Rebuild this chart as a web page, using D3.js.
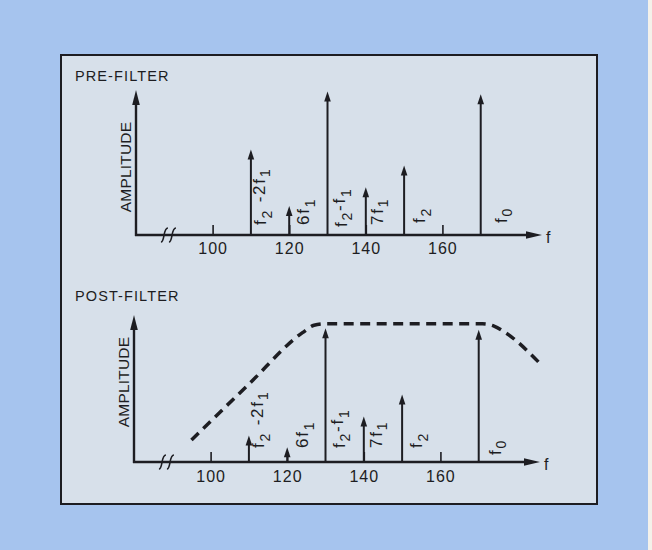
<!DOCTYPE html>
<html><head><meta charset="utf-8">
<script src="https://cdn.jsdelivr.net/npm/d3@7/dist/d3.min.js"></script>
<style>html,body{margin:0;padding:0;background:#fff;}svg{display:block;}</style>
</head><body>
<svg id="c" width="652" height="550"></svg>
<script>
// ---- data ----
const spikeFreqs = [110, 120, 130, 140, 150, 170];
const spikeLabels = [
  [["f",0],["2",1],[" -2f",0],["1",1]],
  [["6f",0],["1",1]],
  [["f",0],["2",1],["-f",0],["1",1]],
  [["7f",0],["1",1]],
  [["f",0],["2",1]],
  [["f",0],["0",1]]
];
const preAmplitude  = [59, 20, 99, 33, 48, 97];
const postAmplitude = [18, 10, 91, 31, 46, 90];
const filterFreq = [95, 110, 124, 127, 130, 171, 174, 177, 186];
const filterAmp  = [15, 53, 88, 93, 94, 94, 92.5, 88, 67];
const tickValues = [100, 120, 140, 160];
const titles = ["PRE-FILTER", "POST-FILTER"];
const yTitle = "AMPLITUDE";
const xTitle = "f";

// ---- layout ----
const ink = "#1d1d22";
const panels = [
  {title: titles[0], amps: preAmplitude, x0: 136, baseY: 235, topY: 90, titleY: 81, ampX: 130.5, ampCY: 167,
   tickLabY: 253.5, labDx: [15, 20, 19, 17, 21, 26], labDy: [10, 10, 8, 10, 12, 12], filter: false},
  {title: titles[1], amps: postAmplitude, x0: 134, baseY: 462, topY: 315, titleY: 301, ampX: 129.3, ampCY: 382,
   tickLabY: 482, labDx: [15, 21, 19, 18, 20, 22], labDy: [14, 14, 14, 14, 14, 7], filter: true}
];

const svg = d3.select("#c");
svg.append("rect").attr("width", 652).attr("height", 550).attr("fill", "#a6c4ee");
svg.append("rect").attr("x", 648).attr("width", 4).attr("height", 550).attr("fill", "#f4f1ea");
svg.append("rect").attr("x", 61).attr("y", 55).attr("width", 536).attr("height", 449)
  .attr("fill", "#d7e0ea").attr("stroke", ink).attr("stroke-width", 2);

const font = "'Liberation Sans', Arial, sans-serif";

panels.forEach(p => {
  const g = svg.append("g");
  const x = d3.scaleLinear().domain([80, 186]).range([p.x0, p.x0 + 406]);
  const y = d3.scaleLinear().domain([0, 100]).range([p.baseY, p.topY]);

  // title
  g.append("text").attr("x", 75).attr("y", p.titleY).text(p.title)
    .attr("font-family", font).attr("font-size", 14.5).attr("letter-spacing", 1.1).attr("fill", ink);

  // y title
  g.append("text").attr("transform", `translate(${p.ampX},${p.ampCY}) rotate(-90)`)
    .attr("text-anchor", "middle").text(yTitle)
    .attr("font-family", font).attr("font-size", 15.5).attr("letter-spacing", 0.2).attr("fill", ink);

  // axes lines
  const xEnd = x(186);
  g.append("line").attr("x1", x(80) - 1).attr("x2", xEnd - 12).attr("y1", p.baseY).attr("y2", p.baseY)
    .attr("stroke", ink).attr("stroke-width", 2.4);
  g.append("path").attr("d", `M${xEnd},${p.baseY} L${xEnd - 16},${p.baseY - 3.8} L${xEnd - 16},${p.baseY + 3.8} Z`).attr("fill", ink);
  g.append("line").attr("x1", x(80)).attr("x2", x(80)).attr("y1", p.baseY + 1).attr("y2", y(100) + 10)
    .attr("stroke", ink).attr("stroke-width", 2.4);
  g.append("path").attr("d", `M${x(80)},${y(100)} L${x(80) - 3.8},${y(100) + 15} L${x(80) + 3.8},${y(100) + 15} Z`).attr("fill", ink);
  g.append("text").attr("x", xEnd + 4).attr("y", p.baseY + 8).text(xTitle)
    .attr("font-family", font).attr("font-size", 16).attr("fill", ink);

  // axis break marks
  const bx = x(88.6), by = p.baseY;
  [-4, 4].forEach(o => {
    g.append("path").attr("d", `M${bx + o - 4},${by + 7} C${bx + o},${by + 7} ${bx + o - 2},${by - 7} ${bx + o + 3},${by - 7}`)
      .attr("fill", "none").attr("stroke", ink).attr("stroke-width", 1.6);
  });

  // ticks via d3 axis
  const ax = d3.axisBottom(x).tickValues(tickValues).tickSizeInner(-10).tickSizeOuter(0).tickPadding(8);
  const axG = g.append("g").attr("transform", `translate(0,${p.baseY})`).call(ax);
  axG.select(".domain").remove();
  axG.selectAll(".tick line").attr("stroke", ink).attr("stroke-width", 1.6);
  axG.selectAll(".tick text").attr("font-family", font).attr("font-size", 16).attr("letter-spacing", 1)
    .attr("fill", ink).attr("dy", null).attr("y", p.tickLabY - p.baseY);

  // spikes
  spikeFreqs.forEach((f, i) => {
    const sx = x(f), ty = y(p.amps[i]);
    g.append("line").attr("x1", sx).attr("x2", sx).attr("y1", p.baseY).attr("y2", ty + 6)
      .attr("stroke", ink).attr("stroke-width", 2);
    g.append("path").attr("d", `M${sx},${ty} L${sx - 3.3},${ty + 10} L${sx + 3.3},${ty + 10} Z`).attr("fill", ink);
    const t = g.append("text").attr("transform", `translate(${sx + p.labDx[i]},${p.baseY - p.labDy[i]}) rotate(-90)`)
      .attr("font-family", font).attr("font-size", 17).attr("letter-spacing", 1.8).attr("fill", ink);
    let shifted = false;
    spikeLabels[i].forEach(([s, sub]) => {
      const ts = t.append("tspan").text(s);
      if (sub && !shifted) { ts.attr("dy", "0.4em").attr("font-size", 14); shifted = true; }
      else if (sub) { ts.attr("font-size", 14); }
      else if (shifted) { ts.attr("dy", "-0.4em"); shifted = false; }
    });
  });

  // filter response
  if (p.filter) {
    const pts = filterFreq.map((f, i) => [f, filterAmp[i]]);
    const line = d3.line().x(d => x(d[0])).y(d => y(d[1])).curve(d3.curveMonotoneX);
    g.append("path").attr("d", line(pts)).attr("fill", "none").attr("stroke", ink)
      .attr("stroke-width", 3.5).attr("stroke-dasharray", "10,6.5");
  }
});
</script>
</body></html>
